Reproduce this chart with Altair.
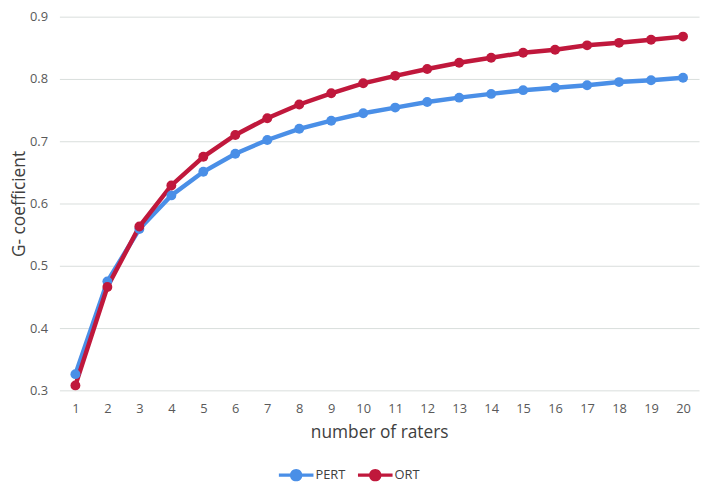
import altair as alt
import pandas as pd

raters = list(range(1, 21))
pert = [0.326, 0.475, 0.559, 0.613, 0.651, 0.680, 0.702, 0.720, 0.733, 0.745,
        0.754, 0.763, 0.770, 0.776, 0.782, 0.786, 0.790, 0.795, 0.798, 0.802]
ort = [0.308, 0.466, 0.563, 0.629, 0.675, 0.710, 0.737, 0.759, 0.777, 0.793,
       0.805, 0.816, 0.826, 0.834, 0.842, 0.847, 0.854, 0.858, 0.863, 0.868]
series_names = ["PERT", "ORT"]
series_colors = ["#4a8fe7", "#c0183c"]
y_ticks = [0.3, 0.4, 0.5, 0.6, 0.7, 0.8, 0.9]

df = pd.DataFrame(
    [{"raters": r, "g": v, "series": "PERT"} for r, v in zip(raters, pert)]
    + [{"raters": r, "g": v, "series": "ORT"} for r, v in zip(raters, ort)]
)

font = "Open Sans"
symbol_path = ("M-1,-0.1 L1,-0.1 L1,0.1 L-1,0.1 Z "
               "M0.36,0 A0.36,0.36 0 1,1 -0.36,0 A0.36,0.36 0 1,1 0.36,0 Z")

x = alt.X("raters:O", title="number of raters",
          scale=alt.Scale(padding=0.5),
          axis=alt.Axis(labelAngle=0, ticks=False, domain=False, grid=False,
                        labelPadding=12, titlePadding=9, labelFontSize=13,
                        titleFontSize=17.5, labelColor="#595959",
                        titleColor="#404040", labelFont=font, titleFont=font,
                        titleFontWeight="normal"))
y = alt.Y("g:Q", title="G- coefficient",
          scale=alt.Scale(domain=[0.3, 0.9], nice=False, zero=False),
          axis=alt.Axis(values=y_ticks, format=".1f", ticks=False, domain=False,
                        grid=True, gridColor="#d9dedc", gridWidth=1,
                        labelPadding=12, titlePadding=1, labelFontSize=13,
                        titleFontSize=17.5, labelColor="#595959",
                        titleColor="#404040", labelFont=font, titleFont=font,
                        titleFontWeight="normal"))
legend = alt.Legend(title=None, orient="none", direction="horizontal",
                    legendX=222, legendY=446, padding=0,
                    symbolType=symbol_path, symbolSize=1225,
                    symbolStrokeWidth=0, labelFontSize=13,
                    labelFont=font, labelColor="#404040",
                    labelOffset=2, columnPadding=12)
color = alt.Color("series:N", scale=alt.Scale(domain=series_names, range=series_colors),
                  sort=series_names, legend=legend)

lines = alt.Chart(df).mark_line(strokeWidth=4.5).encode(
    x=x, y=y, color=color, detail="series:N")
points = alt.Chart(df).mark_point(filled=True, size=100, opacity=1).encode(
    x=x, y=y, color=color)

chart = alt.layer(lines, points).properties(
    width=647, height=378,
    autosize=alt.AutoSizeParams(type="none"),
    padding={"left": 52, "top": 6, "right": 2, "bottom": 97},
).configure_view(stroke=None)

chart.save("out.html", embed_options={"renderer": "svg", "actions": False})
